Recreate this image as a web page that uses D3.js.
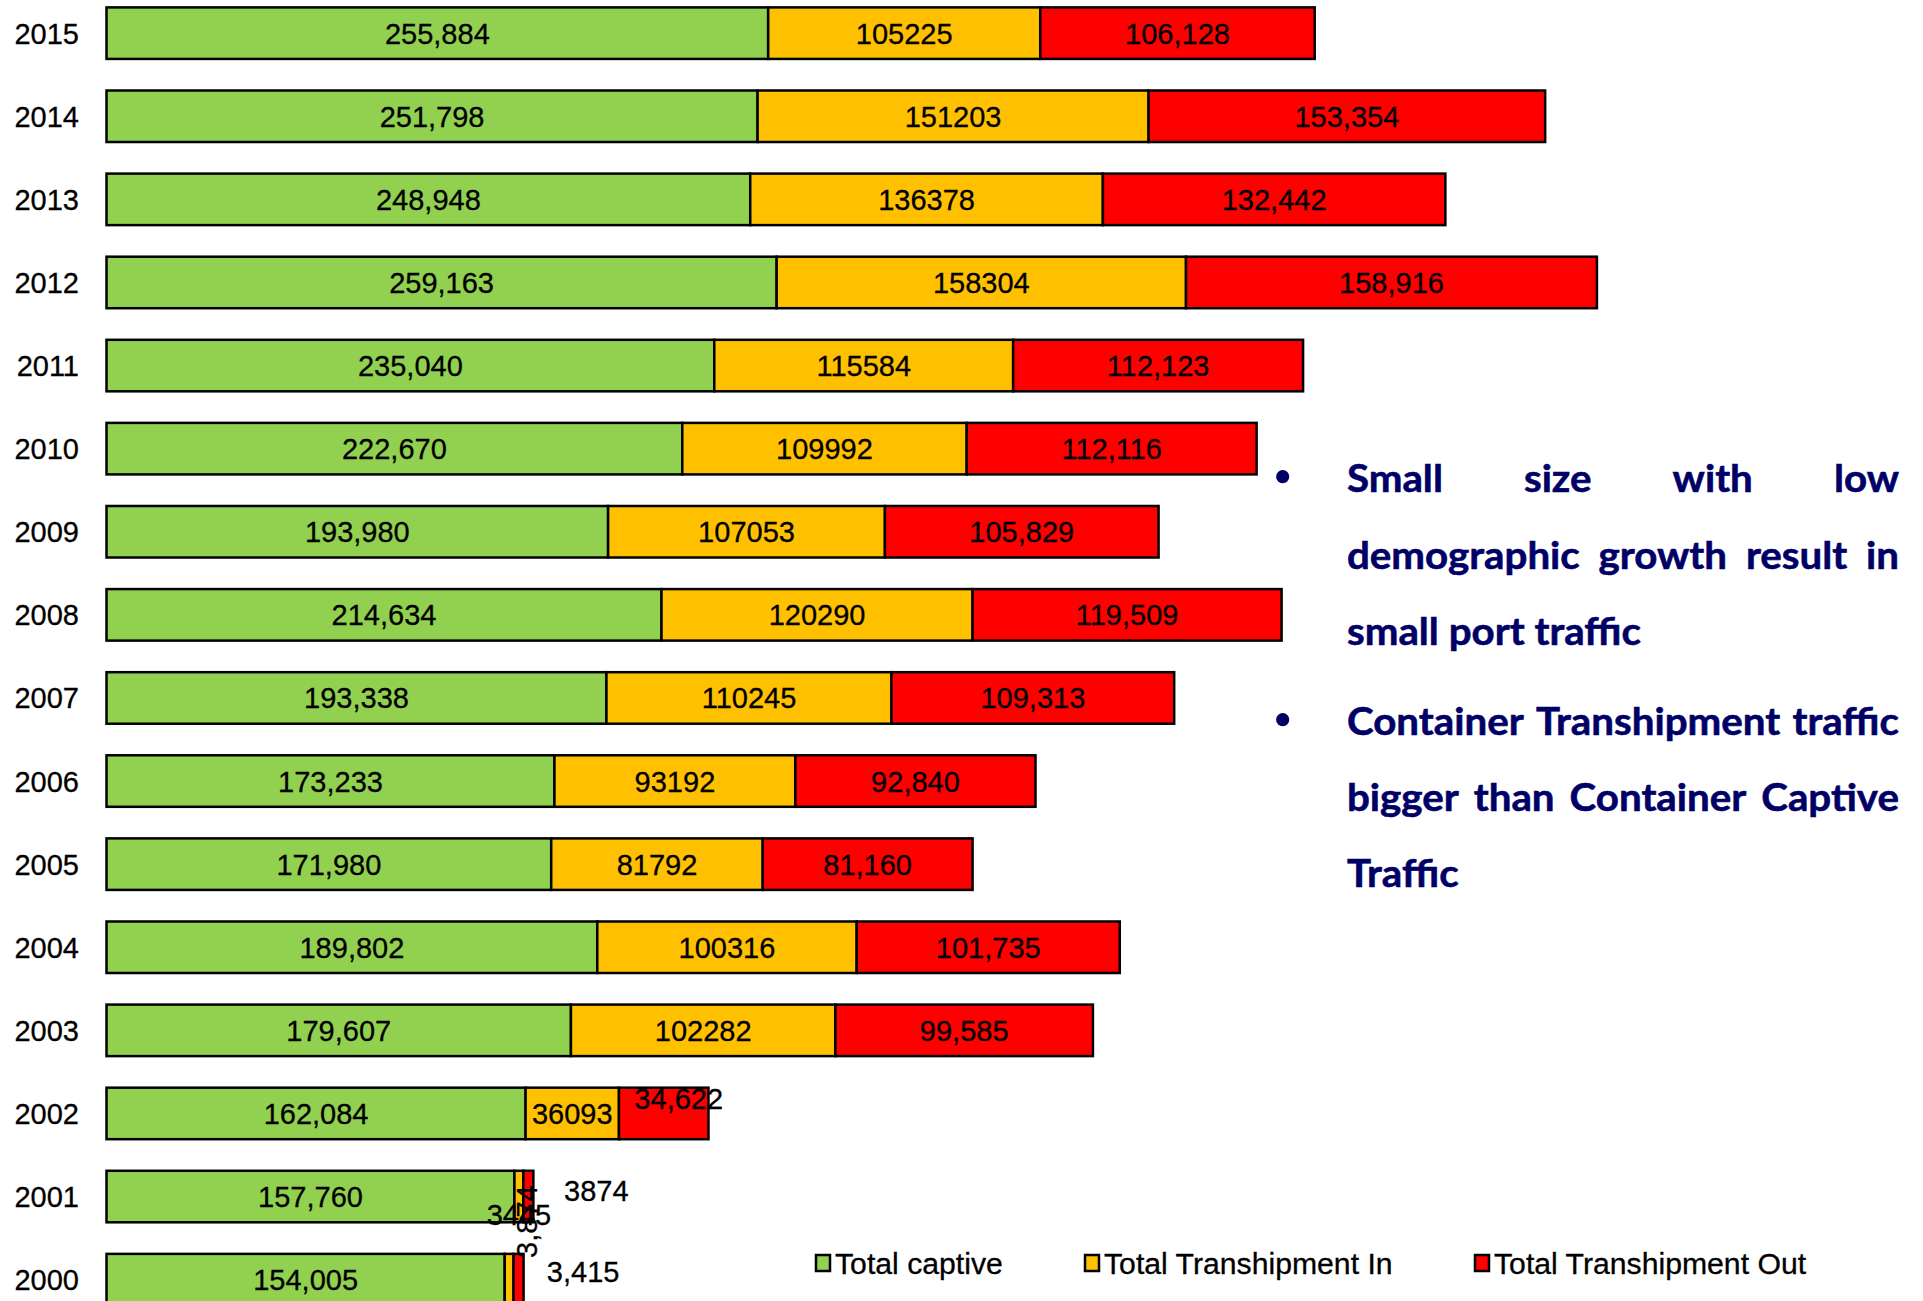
<!DOCTYPE html>
<html><head><meta charset="utf-8">
<script src="https://cdn.jsdelivr.net/npm/d3@7"></script>
<style>body{margin:0;background:#fff;} svg{display:block}</style>
</head><body><svg id="c" width="1923" height="1301"></svg>
<script>
const years = [2015,2014,2013,2012,2011,2010,2009,2008,2007,2006,2005,2004,2003,2002,2001,2000];
const captive  = [255884,251798,248948,259163,235040,222670,193980,214634,193338,173233,171980,189802,179607,162084,157760,154005];
const transIn  = [105225,151203,136378,158304,115584,109992,107053,120290,110245,93192,81792,100316,102282,36093,3445,3415];
const transOut = [106128,153354,132442,158916,112123,112116,105829,119509,109313,92840,81160,101735,99585,34622,3874,3874];
const seriesNames = ["Total captive","Total Transhipment In","Total Transhipment Out"];
const seriesKeys = ["captive","tin","tout"];
const seriesColors = ["#92D050","#FFC000","#FF0000"];
const seriesComma = [true,false,true];
// label exceptions (placement / formatting), as in the original slide
const labelOverrides = [
  {year:2002, key:"tout", dx:15, dy:-15},
  {year:2001, key:"tin", dx:0, dy:18},
  {year:2001, key:"tout", dx:68, dy:-6, comma:false},
  {year:2000, key:"tin", dx:74, dy:-8, comma:true},
  {year:2000, key:"tout", dx:8, dy:-58, rotate:-90}
];
const bullets = [
  ["Small size with low","demographic growth result in","small port traffic"],
  ["Container Transhipment traffic","bigger than Container Captive","Traffic"]
];
const legendX = [815, 1084, 1474];

const svg = d3.select("#c");
const S = 1.0;
const FONT = "Arial, 'Liberation Sans', sans-serif";
const FS = 29;

const x = d3.scaleLinear().domain([0,600000]).range([106.5,1658]);
const y = d3.scaleBand().domain(years).range([7.4,1305.4]).paddingInner(0.38).paddingOuter(0);
const bw = y.bandwidth();

const rows = years.map((yr,i)=>({year:yr, captive:captive[i], tin:transIn[i], tout:transOut[i]}));
const stacked = d3.stack().keys(seriesKeys)(rows);

const gBars = svg.append("g");
stacked.forEach((layer,li)=>{
  gBars.append("g").attr("fill",seriesColors[li]).attr("stroke","#000").attr("stroke-width",2.5)
    .selectAll("rect").data(layer).join("rect")
    .attr("x",d=>x(d[0])).attr("width",d=>x(d[1])-x(d[0]))
    .attr("y",d=>y(d.data.year)).attr("height",bw);
});

const fmtC = d3.format(","), fmtP = d3.format("d");
const gLab = svg.append("g").attr("font-family",FONT).attr("font-size",FS).attr("fill","#000")
  .attr("stroke","#000").attr("stroke-width",0.3).attr("text-anchor","middle");
stacked.forEach((layer,li)=>{
  layer.forEach(d=>{
    const key = seriesKeys[li];
    const ov = labelOverrides.find(o=>o.year===d.data.year && o.key===key) || {};
    const comma = ov.comma!==undefined ? ov.comma : seriesComma[li];
    const v = d.data[key];
    const cx = (x(d[0])+x(d[1]))/2 + (ov.dx||0);
    const cy = y(d.data.year)+bw/2 + (ov.dy||0);
    gLab.append("text")
      .attr("transform",`translate(${cx},${cy}) scale(1,${S})` + (ov.rotate?` rotate(${ov.rotate})`:""))
      .attr("dy","0.36em")
      .text(comma?fmtC(v):fmtP(v));
  });
});

// year labels
svg.append("g").attr("font-family",FONT).attr("font-size",FS).attr("text-anchor","end")
  .attr("stroke","#000").attr("stroke-width",0.3)
  .selectAll("text").data(years).join("text")
  .attr("transform",d=>`translate(79,${y(d)+bw/2}) scale(1,${S})`)
  .attr("dy","0.36em").text(d=>d);

// legend
const lg = svg.append("g").attr("font-family",FONT).attr("font-size",30.2);
seriesNames.forEach((n,i)=>{
  lg.append("rect").attr("x",legendX[i]+1).attr("y",1255).attr("width",14).attr("height",16)
    .attr("fill",seriesColors[i]).attr("stroke","#000").attr("stroke-width",2.5);
  lg.append("text").attr("transform",`translate(${legendX[i]+20},1263) scale(1,${S})`)
    .attr("stroke","#000").attr("stroke-width",0.3)
    .attr("dy","0.36em").text(n);
});

// bullet text, justified
const TFONT = "Lato, 'Open Sans', sans-serif";
const tg = svg.append("g").attr("font-family",TFONT).attr("font-weight",700).attr("fill","#000066");
const probe = tg.append("text").attr("font-size",100).text("small port traffic");
const w100 = probe.node().getComputedTextLength();
probe.remove();
const tfs = 100*294/w100;
const TS = 27.7/(0.7165*tfs);
tg.attr("font-size",tfs);
const meas = tg.append("text").attr("opacity",0);
function tw(s){ meas.text(s); return meas.node().getComputedTextLength(); }
const spaceW = tw("a b")-tw("ab");
const left = 1347, right = 1899;
const baselines = [[492,569,645],[735,811,887]];
bullets.forEach((lines,pi)=>{
  tg.append("circle").attr("cx",1282.7).attr("cy",baselines[pi][0]-15.3).attr("r",6.6);
  lines.forEach((line,li)=>{
    const words = line.split(" ");
    const ws = words.map(tw);
    const total = d3.sum(ws);
    const last = li===lines.length-1;
    const gap = (!last && words.length>1) ? (right-left-total)/(words.length-1) : spaceW;
    const t = tg.append("text").attr("transform",`translate(${left},${baselines[pi][li]}) scale(1,${TS})`)
      .attr("stroke","#000066").attr("stroke-width",0.6);
    let cx = 0;
    words.forEach((w,wi)=>{
      t.append("tspan").attr("x",cx).text(w);
      cx += ws[wi]+gap;
    });
  });
});
meas.remove();
</script>
</body></html>
